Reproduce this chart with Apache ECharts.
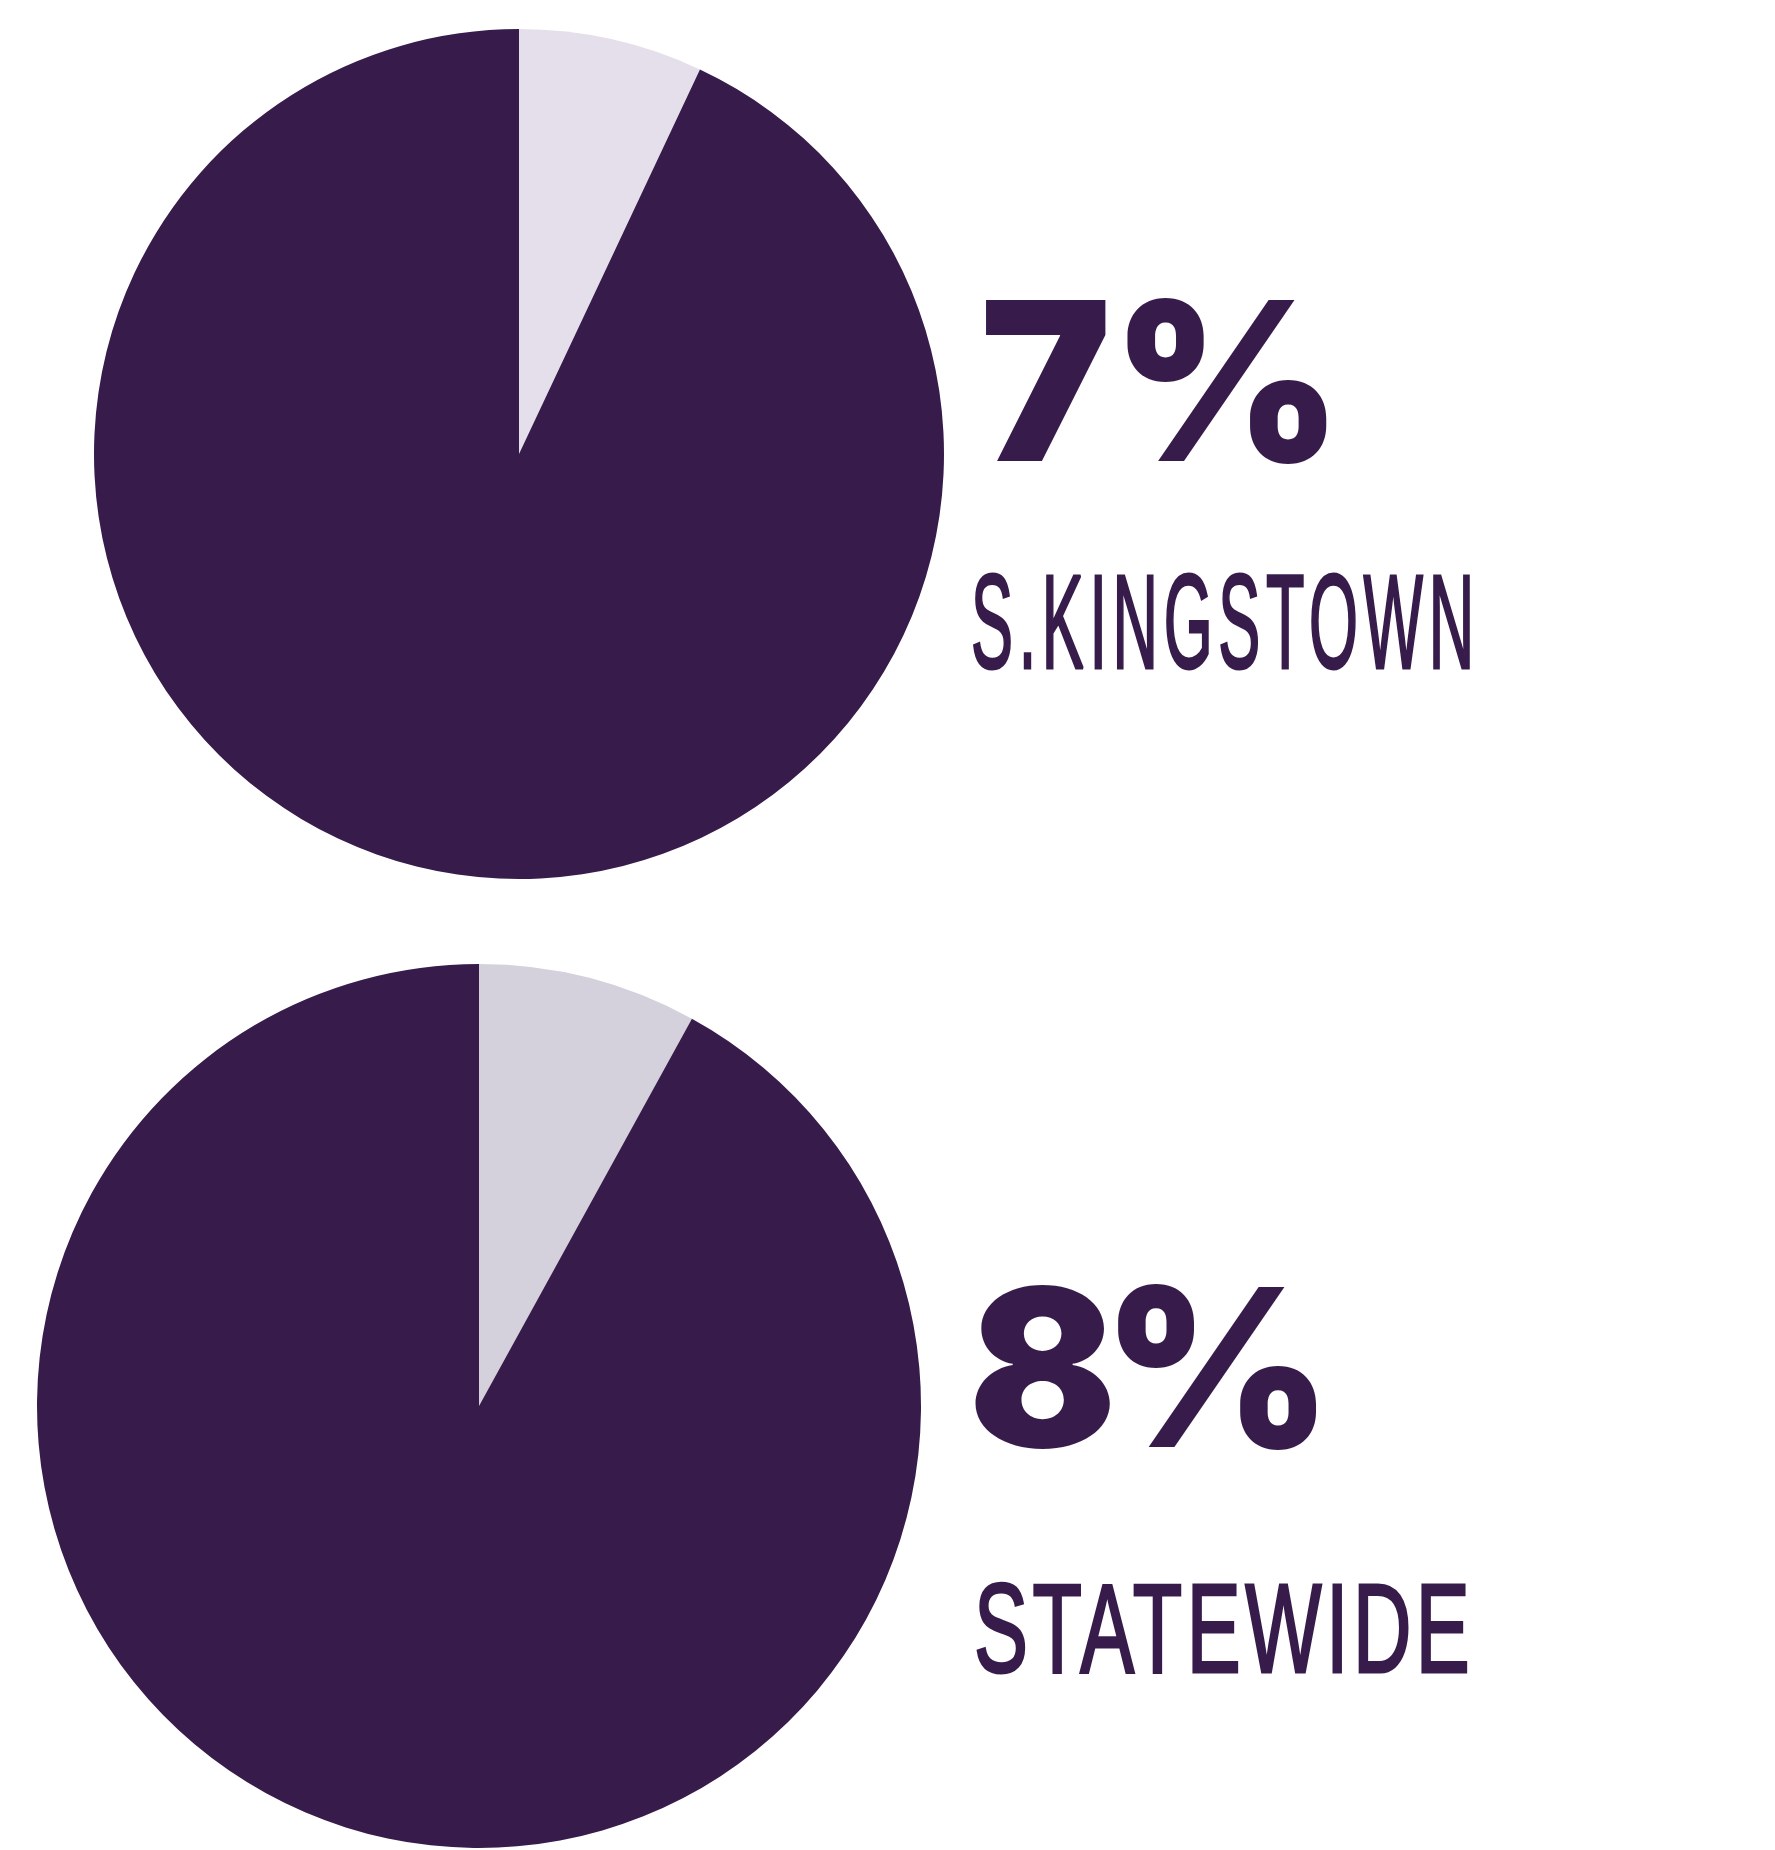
<!DOCTYPE html>
<html><head><meta charset="utf-8">
<script src="https://cdn.jsdelivr.net/npm/echarts@6/dist/echarts.min.js"></script>
<style>html,body{margin:0;padding:0;background:#fff}#c{width:1775px;height:1850px}</style>
</head><body><div id="c"></div>
<script>
// Data
const places = ['S.KINGSTOWN', 'STATEWIDE'];
const shareValues = [7, 8];
const percentLabels = ['7%', '8%'];

const dark = '#371c4b';
const lights = ['#e4dfea', '#d4d1dc'];

// letter spacing per font size (canvas)
const spacingBySize = { '134px': 12, '126px': 7, '220px': -15 };
function applySpacing(ctx) {
  if (!('letterSpacing' in ctx)) return;
  const f = ctx.font || '';
  let ls = 0;
  for (const k in spacingBySize) if (f.indexOf(k) >= 0) ls = spacingBySize[k];
  ctx.letterSpacing = ls + 'px';
}
const origFill = CanvasRenderingContext2D.prototype.fillText;
const origStroke = CanvasRenderingContext2D.prototype.strokeText;
CanvasRenderingContext2D.prototype.fillText = function (t, x, y, m) {
  applySpacing(this);
  return m === undefined ? origFill.call(this, t, x, y) : origFill.call(this, t, x, y, m);
};
CanvasRenderingContext2D.prototype.strokeText = function (t, x, y, m) {
  applySpacing(this);
  return m === undefined ? origStroke.call(this, t, x, y) : origStroke.call(this, t, x, y, m);
};

const pieGeom = [
  { center: [519, 454], r: 425 },
  { center: [479, 1406], r: 442 }
];

const series = shareValues.map((v, i) => ({
  type: 'pie',
  center: pieGeom[i].center,
  radius: pieGeom[i].r,
  startAngle: 90,
  clockwise: true,
  silent: true,
  label: { show: false },
  labelLine: { show: false },
  itemStyle: { borderWidth: 0 },
  data: [
    { name: places[i] + ' share', value: v, itemStyle: { color: lights[i] } },
    { name: places[i] + ' rest', value: 100 - v, itemStyle: { color: dark } }
  ]
}));

const pctText = [
  { x: 980, y: 395, size: 221 },
  { x: 968, y: 1381, size: 220 }
];
const labPos = [{ x: 971, y: 631, size: 134, sx: 0.47 }, { x: 974, y: 1637, size: 126, sx: 0.642 }];

const graphic = [];
percentLabels.forEach((t, i) => {
  const P = pctText[i];
  graphic.push({
    type: 'text', x: P.x, y: P.y,
    style: { text: t, fill: dark, font: '900 ' + P.size + 'px Inter', textAlign: 'left', textVerticalAlign: 'middle' }
  });
});
places.forEach((t, i) => {
  const L = labPos[i];
  graphic.push({
    type: 'text', x: L.x, y: L.y, scaleX: L.sx, scaleY: 1,
    style: { text: t, fill: dark, stroke: dark, lineWidth: 3, font: 'normal ' + L.size + 'px "Liberation Sans"', textAlign: 'left', textVerticalAlign: 'middle' }
  });
});

const chart = echarts.init(document.getElementById('c'), null, { renderer: 'canvas' });
chart.setOption({ animation: false, backgroundColor: '#ffffff', series: series, graphic: graphic });
</script></body></html>
